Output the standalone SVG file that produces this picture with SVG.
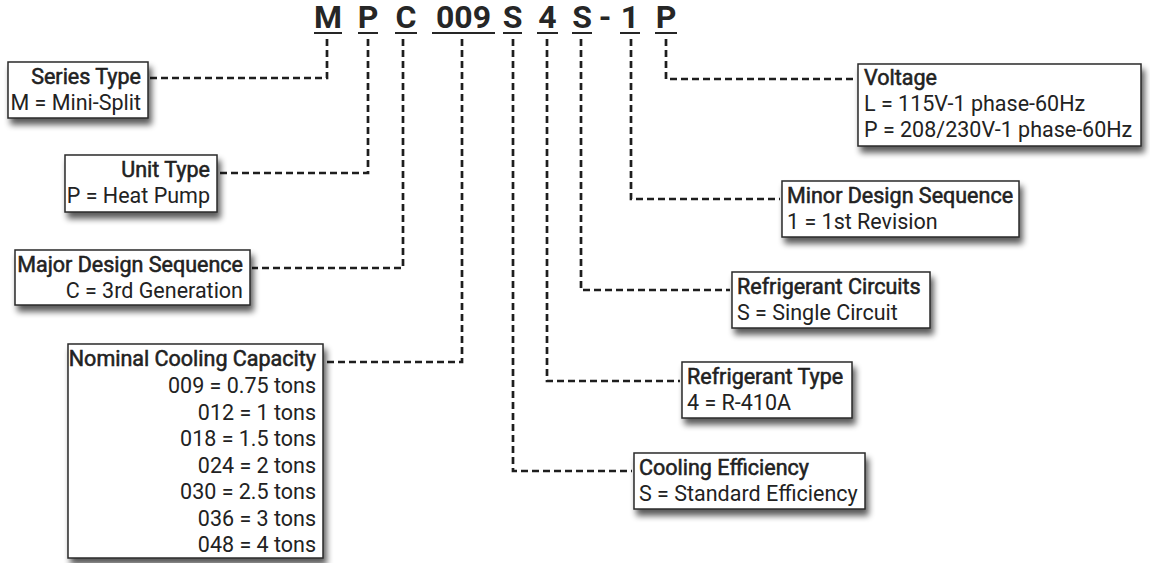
<svg xmlns="http://www.w3.org/2000/svg" width="1150" height="563" viewBox="0 0 1150 563">
<style>
.code{font-family:Roboto,"Liberation Sans",sans-serif;font-size:32px;font-weight:bold;fill:#262626;text-anchor:middle}
.ul{stroke:#262626;stroke-width:2.2}
.box{fill:#fff;stroke:#2a2a2a;stroke-width:1.5;filter:url(#sh)}
.t{font-family:Roboto,"Liberation Sans",sans-serif;font-size:21.5px;font-weight:normal;fill:#222;stroke:#222;stroke-width:0.55}
.v{font-family:Roboto,"Liberation Sans",sans-serif;font-size:21.5px;fill:#222}
.e{text-anchor:end}
.conn path{fill:none;stroke:#1e1e1e;stroke-width:2.7;stroke-dasharray:7 4}
</style>
<defs>
<filter id="sh" x="-20%" y="-20%" width="150%" height="160%">
<feGaussianBlur in="SourceAlpha" stdDeviation="3"/>
<feOffset dx="3" dy="6" result="b"/>
<feComponentTransfer><feFuncA type="linear" slope="0.65"/></feComponentTransfer>
<feMerge><feMergeNode/><feMergeNode in="SourceGraphic"/></feMerge>
</filter>
</defs>
<rect width="1150" height="563" fill="#fff"/>
<g id="code">
<text class="code" x="328" y="28">M</text>
<text class="code" x="368" y="28">P</text>
<text class="code" x="406" y="28">C</text>
<text class="code" x="463.5" y="28">009</text>
<text class="code" x="512.5" y="28">S</text>
<text class="code" x="547.5" y="28">4</text>
<text class="code" x="582" y="28">S</text>
<text class="code" x="605" y="28">-</text>
<text class="code" x="630" y="28">1</text>
<text class="code" x="666" y="28">P</text>
<path class="ul" d="M314 33H342M358 33H378M395 33H417M432 33H495M503 33H522M537 33H558M572 33H592M620 33H640M655 33H677"/>
</g>
<g class="conn" id="connectors">
<path d="M327 39V78H150"/>
<path d="M368 39V173H219"/>
<path d="M403 39V268H252"/>
<path d="M462 39V362H325"/>
<path d="M513 39V471H632"/>
<path d="M547 39V381H680"/>
<path d="M581 39V290H730"/>
<path d="M631 39V199H780"/>
<path d="M666 39V79H856"/>
</g>
<g id="series">
<rect class="box" x="8" y="62" width="140" height="56"/>
<text class="t e" x="141" y="84">Series Type</text>
<text class="v e" x="141" y="110">M = Mini-Split</text>
</g>
<g id="unit">
<rect class="box" x="65" y="155" width="152" height="57"/>
<text class="t e" x="210" y="177">Unit Type</text>
<text class="v e" x="210" y="203">P = Heat Pump</text>
</g>
<g id="major">
<rect class="box" x="15" y="250" width="235" height="55"/>
<text class="t e" x="243" y="272">Major Design Sequence</text>
<text class="v e" x="243" y="298">C = 3rd Generation</text>
</g>
<g id="nominal">
<rect class="box" x="68" y="344" width="255" height="214"/>
<text class="t e" x="316" y="366">Nominal Cooling Capacity</text>
<text class="v e" x="316" y="393">009 = 0.75 tons</text>
<text class="v e" x="316" y="420">012 = 1 tons</text>
<text class="v e" x="316" y="446">018 = 1.5 tons</text>
<text class="v e" x="316" y="473">024 = 2 tons</text>
<text class="v e" x="316" y="499">030 = 2.5 tons</text>
<text class="v e" x="316" y="526">036 = 3 tons</text>
<text class="v e" x="316" y="552">048 = 4 tons</text>
</g>
<g id="voltage">
<rect class="box" x="858" y="64" width="283" height="82"/>
<text class="t" x="864" y="85">Voltage</text>
<text class="v" x="864" y="111">L = 115V-1 phase-60Hz</text>
<text class="v" x="864" y="137">P = 208/230V-1 phase-60Hz</text>
</g>
<g id="minor">
<rect class="box" x="782" y="181" width="237" height="56"/>
<text class="t" x="787" y="203">Minor Design Sequence</text>
<text class="v" x="787" y="229">1 = 1st Revision</text>
</g>
<g id="circuits">
<rect class="box" x="732" y="272" width="198" height="56"/>
<text class="t" x="737" y="294">Refrigerant Circuits</text>
<text class="v" x="737" y="320">S = Single Circuit</text>
</g>
<g id="reftype">
<rect class="box" x="682" y="362" width="170" height="56"/>
<text class="t" x="687" y="384">Refrigerant Type</text>
<text class="v" x="687" y="410">4 = R-410A</text>
</g>
<g id="efficiency">
<rect class="box" x="634" y="453" width="231" height="56"/>
<text class="t" x="639" y="475">Cooling Efficiency</text>
<text class="v" x="639" y="501">S = Standard Efficiency</text>
</g>
</svg>
